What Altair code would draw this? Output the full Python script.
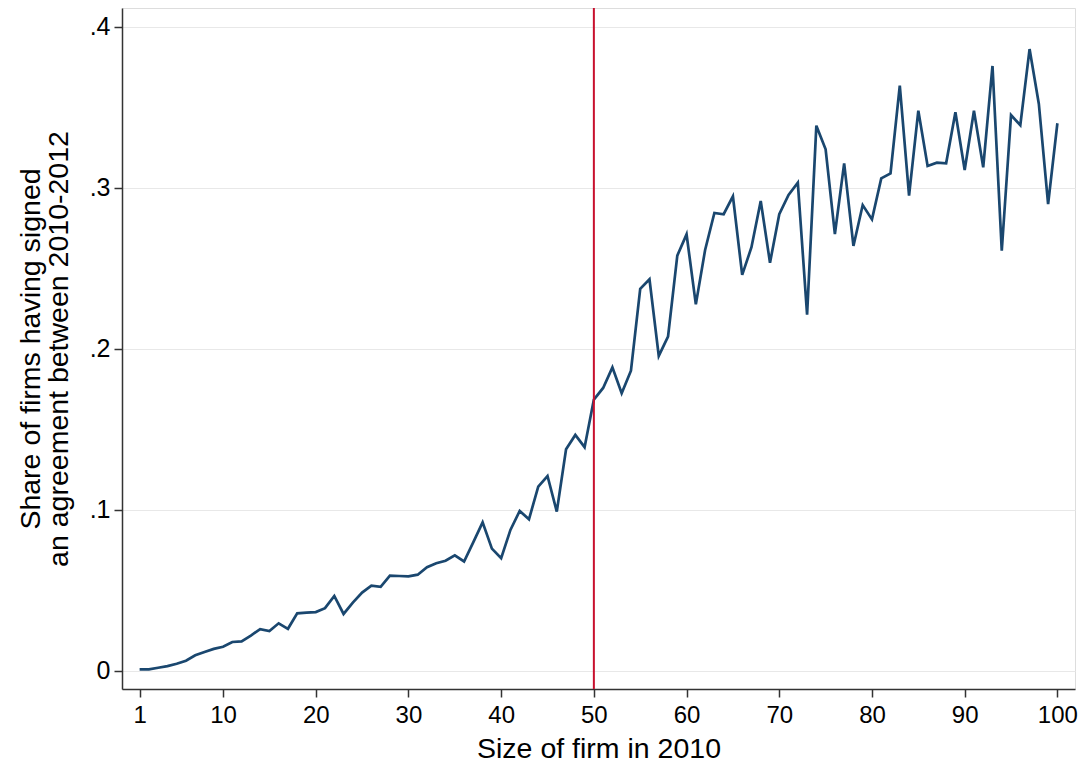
import altair as alt
import pandas as pd

firm_size = list(range(1, 101))
share_signed = [
    0.001, 0.001, 0.002, 0.003, 0.0045, 0.0064, 0.0097, 0.0118, 0.0137, 0.015,
    0.018, 0.0184, 0.022, 0.026, 0.0248, 0.0296, 0.0262, 0.0358, 0.0362, 0.0366,
    0.039, 0.0466, 0.0354, 0.0424, 0.0487, 0.053, 0.0522, 0.0592, 0.059, 0.0588,
    0.0598, 0.0644, 0.0669, 0.0685, 0.0718, 0.068, 0.080, 0.0923, 0.076, 0.070,
    0.0876, 0.0994, 0.0942, 0.1145, 0.1211, 0.099, 0.1377, 0.1466, 0.139, 0.1686,
    0.1758, 0.1886, 0.1725, 0.1865, 0.2373, 0.2433, 0.1957, 0.2077, 0.258, 0.2712,
    0.2277, 0.2615, 0.2845, 0.2837, 0.2948, 0.246, 0.2632, 0.2919, 0.2536, 0.2837,
    0.2957, 0.3033, 0.2213, 0.3387, 0.324, 0.2714, 0.3153, 0.264, 0.2894, 0.2805,
    0.306, 0.3091, 0.3636, 0.2952, 0.348, 0.3137, 0.3157, 0.3153, 0.347, 0.3112,
    0.348, 0.3128, 0.3758, 0.261, 0.3453, 0.339, 0.3863, 0.3522, 0.29, 0.3402,
]
x_ticks = [1, 10, 20, 30, 40, 50, 60, 70, 80, 90, 100]
y_ticks = [0, 0.1, 0.2, 0.3, 0.4]
cutoff = [50]

df = pd.DataFrame({"size": firm_size, "share": share_signed})
cut_df = pd.DataFrame({"size": cutoff})

FONT = "Liberation Sans"

x_scale = alt.Scale(domain=[-0.9, 101.9], nice=False, zero=False)
y_scale = alt.Scale(domain=[-0.0112, 0.4118], nice=False, zero=False)

line = alt.Chart(df).mark_line(color="#1a476f", strokeWidth=2.7).encode(
    x=alt.X("size:Q", scale=x_scale,
            axis=alt.Axis(values=x_ticks, title="Size of firm in 2010",
                          grid=False, labelFontSize=24, titleFontSize=28.5,
                          titleFontWeight="normal", labelFont=FONT, titleFont=FONT,
                          labelColor="black", titleColor="black",
                          domainColor="#333333", domainWidth=1.5,
                          tickColor="#333333", tickWidth=1.5, tickSize=8,
                          labelPadding=6, titlePadding=7, labelFlush=False)),
    y=alt.Y("share:Q", scale=y_scale,
            axis=alt.Axis(values=y_ticks,
                          labelExpr="datum.value == 0 ? '0' : replace(format(datum.value, '.1f'), '0.', '.')",
                          title=["Share of firms having signed", "an agreement between 2010-2012"],
                          grid=True, gridColor="#e8e8e8", gridWidth=1,
                          labelFontSize=25, titleFontSize=28.5, titleFontWeight="normal",
                          titleLineHeight=28,
                          labelFont=FONT, titleFont=FONT,
                          labelColor="black", titleColor="black",
                          domainColor="#333333", domainWidth=1.5,
                          tickColor="#333333", tickWidth=1.5, tickSize=8,
                          labelPadding=4, titlePadding=16, labelFlush=False)),
)

rule = alt.Chart(cut_df).mark_rule(color="#c8102e", strokeWidth=2).encode(
    x=alt.X("size:Q", scale=x_scale),
)

chart = alt.layer(line, rule).properties(
    width=953, height=681,
    autosize=alt.AutoSizeParams(type="none"),
    padding={"left": 114, "top": 0, "right": 8, "bottom": 75},
).configure_view(strokeWidth=0).configure(background="white")

chart.save("out.html", embed_options={"renderer": "svg", "actions": False})
